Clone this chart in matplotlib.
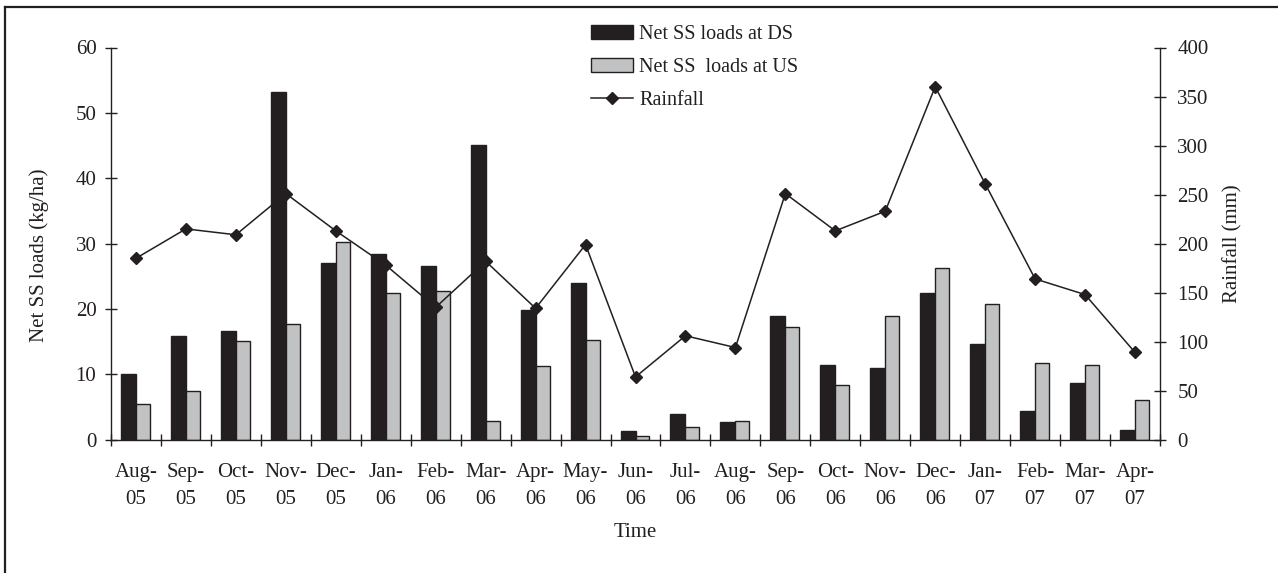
import matplotlib
matplotlib.use("Agg")
import matplotlib.pyplot as plt
from matplotlib.lines import Line2D
import numpy as np

months = ["Aug-\n05", "Sep-\n05", "Oct-\n05", "Nov-\n05", "Dec-\n05", "Jan-\n06", "Feb-\n06",
          "Mar-\n06", "Apr-\n06", "May-\n06", "Jun-\n06", "Jul-\n06", "Aug-\n06", "Sep-\n06",
          "Oct-\n06", "Nov-\n06", "Dec-\n06", "Jan-\n07", "Feb-\n07", "Mar-\n07", "Apr-\n07"]
ss_ds = [10.1, 15.8, 16.7, 53.2, 27.0, 28.4, 26.5, 45.1, 19.9, 23.9, 1.3, 3.9, 2.7,
         18.9, 11.5, 11.0, 22.4, 14.6, 4.4, 8.7, 1.5]
ss_us = [5.5, 7.5, 15.1, 17.7, 30.3, 22.5, 22.7, 2.9, 11.2, 15.3, 0.6, 1.9, 2.9,
         17.2, 8.4, 18.9, 26.3, 20.8, 11.7, 11.5, 6.0]
rainfall = [185, 215, 209, 251, 213, 178, 135, 182, 134, 199, 64, 106, 94,
            251, 213, 233, 360, 261, 164, 148, 89]

INK = "#231f20"
GRAY = "#c1c2c4"
plt.rcParams['font.family'] = ['Liberation Serif', 'DejaVu Serif']
plt.rcParams['font.size'] = 15
plt.rcParams['text.color'] = INK
plt.rcParams['axes.labelcolor'] = INK
plt.rcParams['xtick.color'] = INK
plt.rcParams['ytick.color'] = INK

W, H = 1278, 573
fig = plt.figure(figsize=(W / 100, H / 100), dpi=100)
ax = fig.add_axes([111 / W, 1 - 439.7 / H, (1160 - 111) / W, (439.7 - 47.5) / H])
ax2 = ax.twinx()

x = np.arange(len(months))
ax.bar(x, ss_ds, width=-0.3, align='edge', color=INK, edgecolor=INK, linewidth=1.0,
       label="Net SS loads at DS")
ax.bar(x, ss_us, width=0.28, align='edge', color=GRAY, edgecolor=INK, linewidth=1.0,
       label="Net SS  loads at US")
ax2.plot(x, rainfall, color=INK, linewidth=1.1, marker='D', markersize=6.5,
         markerfacecolor=INK, markeredgecolor=INK, label="Rainfall")

ax.set_xlim(-0.5, len(months) - 0.5)
ax.set_ylim(0, 60)
ax2.set_ylim(0, 400)
ax.set_yticks(np.arange(0, 61, 10))
ax2.set_yticks(np.arange(0, 401, 50))

ax.set_xticks(np.arange(-0.5, len(months), 1.0))
ax.set_xticklabels([])
ax.set_xticks(x, minor=True)
ax.set_xticklabels(months, minor=True, linespacing=1.55)
ax.tick_params(axis='x', which='major', direction='inout', length=9, width=1.0)
ax.tick_params(axis='x', which='minor', length=0, pad=17)
ax.tick_params(axis='y', direction='inout', length=9, width=1.0, pad=6)
ax2.tick_params(axis='y', direction='inout', length=9, width=1.0, pad=8)

for a in (ax, ax2):
    a.spines['top'].set_visible(False)
    for s in a.spines.values():
        s.set_color(INK)
        s.set_linewidth(1.0)
ax.spines['right'].set_visible(False)
ax2.spines['left'].set_visible(False)
ax2.spines['bottom'].set_visible(False)

ax.set_ylabel("Net SS loads (kg/ha)")
ax.yaxis.set_label_coords((49 - 111) / 1049, 0.47)
ax2.set_ylabel("Rainfall (mm)", labelpad=10)
ax.set_xlabel("Time", labelpad=10)

h1, l1 = ax.get_legend_handles_labels()
h2, l2 = ax2.get_legend_handles_labels()
fig.legend(h1 + h2, l1 + l2, loc='upper left', bbox_to_anchor=(591 / W, 1 - 25 / H),
           frameon=False, borderpad=0, borderaxespad=0, handlelength=2.1,
           handletextpad=0.3, labelspacing=0.70, fontsize=14.5)

# figure border (top and left visible)
fig.add_artist(Line2D([4.5 / W, 1.0], [1 - 7 / H, 1 - 7 / H], color=INK, linewidth=1.6,
                      transform=fig.transFigure))
fig.add_artist(Line2D([4.5 / W, 4.5 / W], [0.0, 1 - 7 / H], color=INK, linewidth=1.6,
                      transform=fig.transFigure))

fig.savefig("out.png", dpi=100)
